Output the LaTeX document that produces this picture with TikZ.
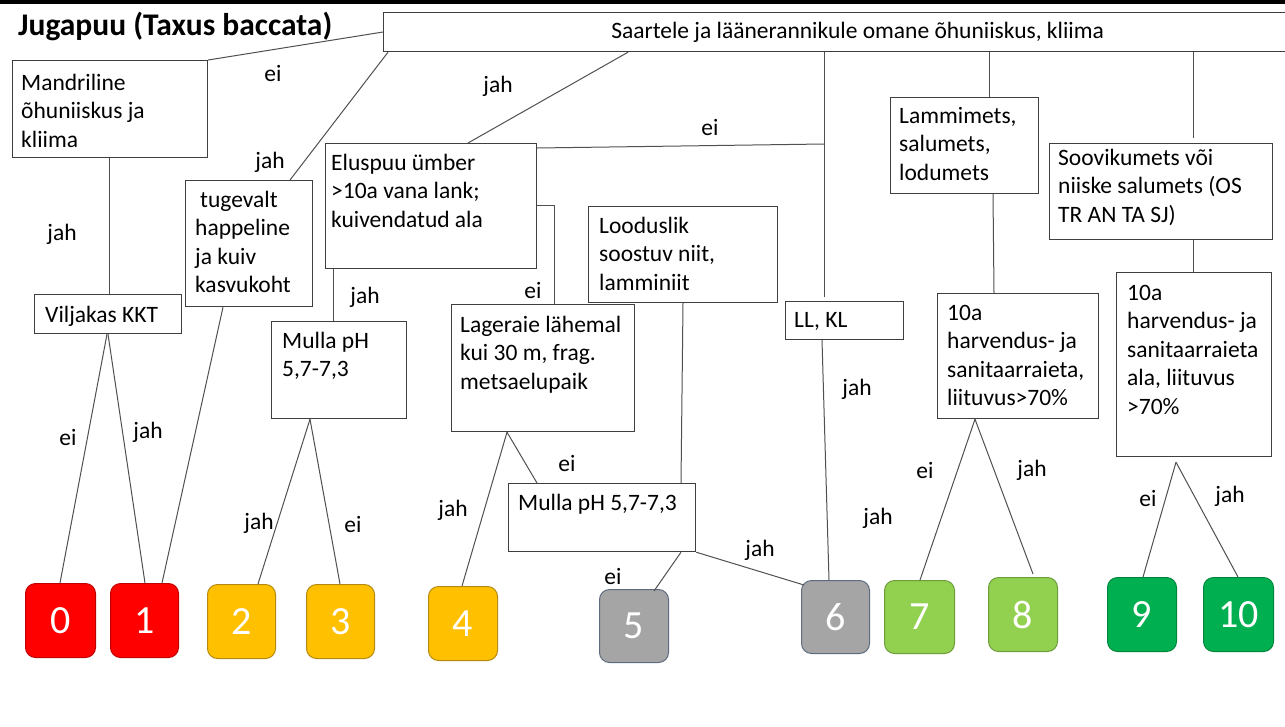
\documentclass[tikz,border=0pt]{standalone}
\usepackage{fontspec}
\setmainfont{Carlito}
\usetikzlibrary{calc}

\definecolor{edge}{HTML}{505050}
\definecolor{frame}{HTML}{3F3F3F}
\definecolor{redF}{HTML}{FF0000}\definecolor{redB}{HTML}{C00000}
\definecolor{goldF}{HTML}{FFC000}\definecolor{goldB}{HTML}{B58A10}
\definecolor{grayF}{HTML}{A5A5A5}\definecolor{grayB}{HTML}{5E6C80}
\definecolor{lgrF}{HTML}{92D050}\definecolor{lgrB}{HTML}{6E9D3C}
\definecolor{grF}{HTML}{00B050}\definecolor{grB}{HTML}{00863C}

\newcommand\txtsize{\fontsize{23.5}{28.5}\selectfont}
\newcommand\fstrut{\rule{0pt}{18pt}}

\tikzset{
  box/.style={draw=frame, line width=1.2pt, fill=white, anchor=north west, inner sep=0pt},
  boxtext/.style={anchor=north west, inner sep=0pt, align=left, font=\txtsize},
  lbl/.style={inner sep=0pt, font=\txtsize},
  conn/.style={draw=edge, line width=1pt},
  leaf/.style={anchor=north west, rounded corners=10pt, line width=1pt, inner sep=0pt,
               text=white, font=\fontsize{40}{44}\selectfont},
  redleaf/.style={leaf, fill=redF, draw=redB},
  goldleaf/.style={leaf, fill=goldF, draw=goldB},
  grayleaf/.style={leaf, fill=grayF, draw=grayB},
  lgreenleaf/.style={leaf, fill=lgrF, draw=lgrB},
  greenleaf/.style={leaf, fill=grF, draw=grB},
}

\begin{document}
\begin{tikzpicture}[x=1pt,y=-1pt]
\useasboundingbox (0,0) rectangle (1285,726);
\clip (0,0) rectangle (1285,726);
\fill[white] (0,0) rectangle (1285,726);

% heading rule and title
\fill[black] (0,0) rectangle (1285,3.5);
\node[anchor=base west, inner sep=0pt, font=\bfseries\fontsize{31.5}{36}\selectfont] (title) at (18,35) {Jugapuu (Taxus baccata)};

% question boxes
\node[box, minimum width=948pt, minimum height=39pt, font=\txtsize] (A) at (383,12) {Saartele ja läänerannikule omane õhuniiskus, kliima};

\node[box, minimum width=195pt, minimum height=97pt] (B) at (12,60) {};
\node[boxtext] (Bt) at (21,72) {\fstrut Mandriline\\õhuniiskus ja\\kliima};

\node[box, minimum width=127pt, minimum height=126pt] (C) at (185,180) {};
\node[boxtext] (Ct) at (195,189) {\fstrut\hspace*{5pt}tugevalt\\happeline\\ja kuiv\\kasvukoht};

\node[box, minimum width=211pt, minimum height=125pt] (D) at (325,143) {};
\node[boxtext] (Dt) at (331,152) {\fstrut Eluspuu ümber\\>10a vana lank;\\kuivendatud ala};

\node[box, minimum width=147pt, minimum height=39pt] (E) at (34,294) {};
\node[boxtext] (Et) at (45,304) {\fstrut Viljakas KKT};

\node[box, minimum width=135pt, minimum height=97pt] (F) at (271,321) {};
\node[boxtext] (Ft) at (282,330) {\fstrut Mulla pH\\5,7-7,3};

\node[box, minimum width=183pt, minimum height=127pt] (G) at (451,304) {};
\node[boxtext] (Gt) at (460,314) {\fstrut Lageraie lähemal\\kui 30 m, frag.\\metsaelupaik};

\node[box, minimum width=189pt, minimum height=96pt] (H) at (588,206) {};
\node[boxtext] (Ht) at (599,215) {\fstrut Looduslik\\soostuv niit,\\lamminiit};

\node[box, minimum width=118pt, minimum height=38pt] (I) at (785,301) {};
\node[boxtext] (It) at (794,309) {\fstrut LL, KL};

\node[box, minimum width=187pt, minimum height=68pt] (J) at (508,483) {};
\node[boxtext] (Jt) at (518,492) {\fstrut Mulla pH 5,7-7,3};

\node[box, minimum width=148pt, minimum height=96pt] (K) at (890,97) {};
\node[boxtext] (Kt) at (899,105) {\fstrut Lammimets,\\salumets,\\lodumets};

\node[box, minimum width=161pt, minimum height=125pt] (L) at (937,293) {};
\node[boxtext] (Lt) at (947,302) {\fstrut 10a\\harvendus- ja\\sanitaarraieta,\\liituvus>70\%};

\node[box, minimum width=223pt, minimum height=96pt] (M) at (1049,143) {};
\node[boxtext] (Mt) at (1058,147) {\fstrut Soovikumets või\\niiske salumets (OS\\TR AN TA SJ)};

\node[box, minimum width=155pt, minimum height=184pt] (N) at (1116,272) {};
\node[boxtext] (Nt) at (1127,282) {\fstrut 10a\\harvendus- ja\\sanitaarraieta\\ala, liituvus\\>70\%};

% result classes
\node[redleaf, minimum width=70pt, minimum height=74pt] (n0) at (25,583) {0};
\node[redleaf, minimum width=68pt, minimum height=74pt] (n1) at (110,583) {1};
\node[goldleaf, minimum width=68pt, minimum height=74pt] (n2) at (207,584) {2};
\node[goldleaf, minimum width=68pt, minimum height=74pt] (n3) at (306,584) {3};
\node[goldleaf, minimum width=69pt, minimum height=74pt] (n4) at (428,586) {4};
\node[grayleaf, minimum width=69pt, minimum height=73pt] (n5) at (599,589) {5};
\node[grayleaf, minimum width=68pt, minimum height=73pt] (n6) at (801,580) {6};
\node[lgreenleaf, minimum width=70pt, minimum height=73pt] (n7) at (884,580) {7};
\node[lgreenleaf, minimum width=69pt, minimum height=74pt] (n8) at (988,577) {8};
\node[greenleaf, minimum width=69pt, minimum height=74pt] (n9) at (1107,577) {9};
\node[greenleaf, minimum width=70pt, minimum height=74pt] (n10) at (1203,577) {10};

% junction on the LL, KL branch
\coordinate (j1) at (824,144);

% connectors
\draw[conn] (B.north east) -- ([yshift=-20]A.north west);
\draw[conn] ([xshift=5]A.south west) -- ([xshift=105]C.north west);
\draw[conn] ([xshift=245]A.south west) -- ([xshift=143]D.north west);
\draw[conn] ([yshift=-5]D.north east) -- (j1);
\draw[conn] ([xshift=441]A.south west) -- ([xshift=39,yshift=4]I.north west);
\draw[conn] ([xshift=606]A.south west) -- ([xshift=99]K.north west);
\draw[conn] ([xshift=810]A.south west) -- ([xshift=144,yshift=5]M.north west);

\draw[conn] ([xshift=97]B.south west) -- ([xshift=75]E.north west);
\draw[conn] ([xshift=73]E.south west) -- ([xshift=35]n0.north west);
\draw[conn] ([xshift=74]E.south west) -- ([xshift=35]n1.north west);
\draw[conn] ([xshift=38]C.south west) -- ([xshift=52]n1.north west);

\draw[conn] ([xshift=8]D.south west) -- ([xshift=62]F.north west);
\draw[conn] ([yshift=-62]D.north east) -| ([xshift=103]G.north west);
\draw[conn] ([xshift=39]F.south west) -- ([xshift=51]n2.north west);
\draw[conn] ([xshift=39]F.south west) -- ([xshift=34]n3.north west);

\draw[conn] ([xshift=56]G.south west) -- ([xshift=34]n4.north west);
\draw[conn] ([xshift=56]G.south west) -- ([xshift=29]J.north west);
\draw[conn] ([xshift=95]H.south west) -- ([xshift=173]J.north west);
\draw[conn] ([xshift=173]J.south west) -- ([xshift=55,yshift=-2]n5.north west);
\draw[conn] (J.south east) -- ([xshift=3,yshift=-5]n6.north west);
\draw[conn] ([xshift=37]I.south west) -- ([xshift=28]n6.north west);

\draw[conn] ([xshift=103]K.south west) -- ([xshift=57]L.north west);
\draw[conn] ([xshift=38]L.south west) -- ([xshift=36]n7.north west);
\draw[conn] ([xshift=38]L.south west) -- ([xshift=45,yshift=3]n8.north west);

\draw[conn] ([xshift=144]M.south west) -- ([xshift=77]N.north west);
\draw[conn] ([xshift=60,yshift=-5]N.south west) -- ([xshift=36]n9.north west);
\draw[conn] ([xshift=60,yshift=-5]N.south west) -- ([xshift=35]n10.north west);

% answer labels
\node[lbl] (la1) at (273,73) {ei};
\node[lbl] (la2) at (270,162) {jah};
\node[lbl] (la3) at (498,86) {jah};
\node[lbl] (la4) at (710,127) {ei};
\node[lbl] (la5) at (62,234) {jah};
\node[lbl] (la6) at (68,437) {ei};
\node[lbl] (la7) at (148,432) {jah};
\node[lbl] (la8) at (365,297) {jah};
\node[lbl] (la9) at (533,290) {ei};
\node[lbl] (la10) at (259,523) {jah};
\node[lbl] (la11) at (353,524) {ei};
\node[lbl] (la12) at (453,510) {jah};
\node[lbl] (la13) at (567,463) {ei};
\node[lbl] (la14) at (613,576) {ei};
\node[lbl] (la15) at (760,550) {jah};
\node[lbl] (la16) at (857,389) {jah};
\node[lbl] (la17) at (878,518) {jah};
\node[lbl] (la18) at (925,470) {ei};
\node[lbl] (la19) at (1032,470) {jah};
\node[lbl] (la20) at (1148,498) {ei};
\node[lbl] (la21) at (1230,496) {jah};
\end{tikzpicture}
\end{document}
